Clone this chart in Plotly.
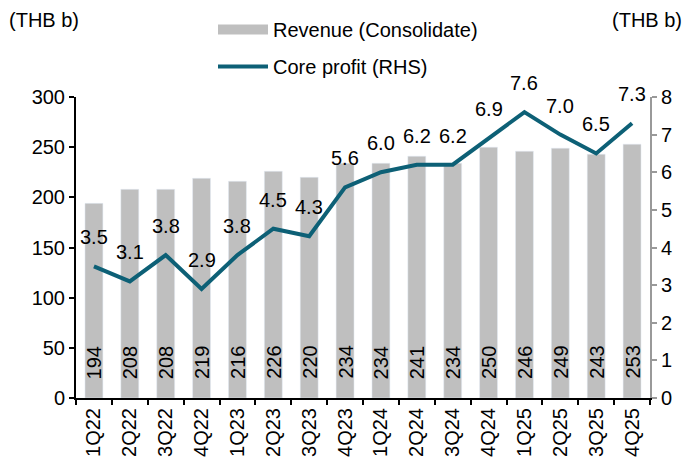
import plotly.graph_objects as go

quarters = ["1Q22", "2Q22", "3Q22", "4Q22", "1Q23", "2Q23", "3Q23", "4Q23",
            "1Q24", "2Q24", "3Q24", "4Q24", "1Q25", "2Q25", "3Q25", "4Q25"]
revenue = [194, 208, 208, 219, 216, 226, 220, 234, 234, 241, 234, 250, 246, 249, 243, 253]
core_profit = [3.5, 3.1, 3.8, 2.9, 3.8, 4.5, 4.3, 5.6, 6.0, 6.2, 6.2, 6.9, 7.6, 7.0, 6.5, 7.3]

FONT = "Liberation Sans, Arial, sans-serif"
FS = 20
BAR_COLOR = "#bfbfbf"
LINE_COLOR = "#0d6076"

W, H = 699, 466
plot_l, plot_r, plot_t, plot_b = 76, 650, 97, 398
pw, ph = plot_r - plot_l, plot_b - plot_t


def px(xp):
    return (xp - plot_l) / pw


def py(yp):
    return (plot_b - yp) / ph


fig = go.Figure()

fig.add_trace(go.Bar(
    x=quarters, y=revenue, marker_color=BAR_COLOR, showlegend=False,
    name="Revenue (Consolidate)", yaxis="y",
))
# legend proxy for the bar series (wide flat swatch)
fig.add_trace(go.Scatter(
    x=[None], y=[None], mode="lines", name="Revenue (Consolidate)",
    line=dict(color=BAR_COLOR, width=11), legendgroup="a",
))
fig.add_trace(go.Scatter(
    x=quarters, y=core_profit, mode="lines", name="Core profit (RHS)",
    line=dict(color=LINE_COLOR, width=4), yaxis="y2", legendgroup="b",
))

annotations = []
for q, v in zip(quarters, revenue):
    annotations.append(dict(
        x=q, y=0, xref="x", yref="y", text=str(v), textangle=-90,
        showarrow=False, yanchor="bottom", yshift=17,
        font=dict(family=FONT, size=FS, color="black"),
    ))
for q, v in zip(quarters, core_profit):
    annotations.append(dict(
        x=q, y=v, xref="x", yref="y2", text=f"{v:.1f}",
        showarrow=False, yshift=29, xanchor="center", yanchor="middle",
        font=dict(family=FONT, size=FS, color="black"),
    ))
annotations.append(dict(x=px(44), y=py(20), xref="paper", yref="paper",
                        text="(THB b)", showarrow=False,
                        xanchor="center", yanchor="middle",
                        font=dict(family=FONT, size=FS, color="black")))
annotations.append(dict(x=px(647), y=py(20), xref="paper", yref="paper",
                        text="(THB b)", showarrow=False,
                        xanchor="center", yanchor="middle",
                        font=dict(family=FONT, size=FS, color="black")))

fig.update_layout(
    annotations=annotations,
    width=W, height=H,
    margin=dict(l=plot_l, r=W - plot_r, t=plot_t, b=H - plot_b, pad=0,
                autoexpand=False),
    paper_bgcolor="white", plot_bgcolor="white",
    font=dict(family=FONT, size=FS, color="black"),
    bargap=0.5,
    xaxis=dict(
        type="category", tickangle=-90, ticks="outside", ticklen=5,
        tickson="boundaries", showline=True, linecolor="black", linewidth=2,
        tickcolor="black", tickwidth=2, showgrid=False, automargin=False,
        tickfont=dict(family=FONT, size=FS),
    ),
    yaxis=dict(
        range=[0, 300], dtick=50, ticks="outside", ticklen=5,
        showline=True, linecolor="black", linewidth=2, tickcolor="black",
        tickwidth=2, showgrid=False, zeroline=False, automargin=False,
        tickfont=dict(family=FONT, size=FS),
    ),
    yaxis2=dict(
        range=[0, 8], dtick=1, overlaying="y", side="right",
        ticks="outside", ticklen=5, showline=True, linecolor="#999999",
        linewidth=2, tickcolor="#999999", tickwidth=2, showgrid=False,
        zeroline=False, automargin=False, tickfont=dict(family=FONT, size=FS),
    ),
    legend=dict(
        x=213 / W, y=1 - 10 / H, xref="container", yref="container",
        xanchor="left", yanchor="top",
        orientation="v", traceorder="grouped", tracegroupgap=8,
        itemwidth=50, font=dict(family=FONT, size=FS),
        bgcolor="rgba(0,0,0,0)",
    ),
)

fig.write_html(
    "out.html",
    config={"displayModeBar": False},
    post_script="document.body.style.margin='0';document.body.style.overflow='hidden';",
)
